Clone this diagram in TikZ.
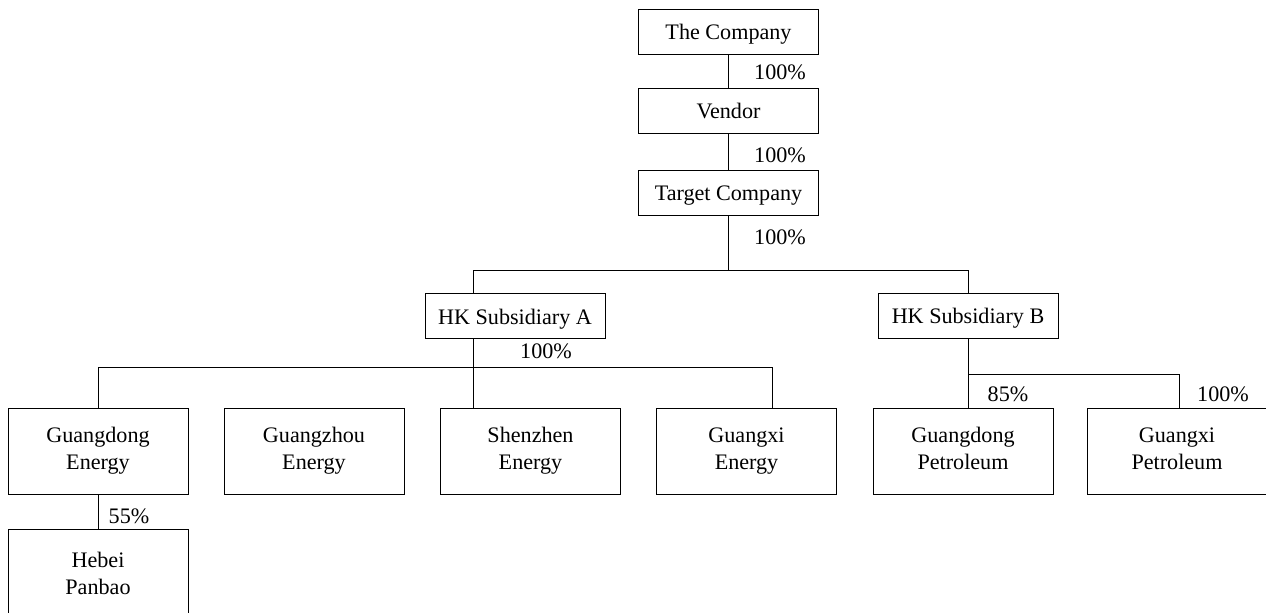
\documentclass[tikz,border=0pt]{standalone}
\usepackage{fontspec}
\setmainfont{Liberation Serif}
\newcommand\boxstrut{\rule[-2.9pt]{0pt}{15.3pt}}
\begin{document}
\begin{tikzpicture}[x=0.02cm, y=-0.02cm, line width=0.55pt,
  box/.style={draw, rectangle, minimum width=3.6cm, minimum height=0.9cm, inner sep=0pt, align=center,
    execute at begin node=\boxstrut, execute at end node=\boxstrut},
  tallbox/.style={box, minimum height=1.72cm},
  share/.style={inner sep=0pt}]
\fontsize{12.6}{15.3}\selectfont
\useasboundingbox (0,0) rectangle (1266,612);
\clip (0,0) rectangle (1266,612);
\node[box](A) at (728.5,31.5){The Company};
\node[box](B) at (728.5,110.5){Vendor};
\node[box](C) at (728.5,192.5){Target Company};
\node[box](C1) at (515,316){HK Subsidiary A};
\node[box](C2) at (968,315.5){HK Subsidiary B};
\node[tallbox](C11) at (98,451){Guangdong\\Energy};
\node[tallbox](C12) at (314,451){Guangzhou\\Energy};
\node[tallbox](C13) at (530.5,451){Shenzhen\\Energy};
\node[tallbox](C14) at (746.5,451){Guangxi\\Energy};
\node[tallbox](C21) at (963,451){Guangdong\\Petroleum};
\node[tallbox](C22) at (1177,451){Guangxi\\Petroleum};
\node[tallbox, minimum height=1.88cm](C111) at (98,576){Hebei\\Panbao};
\coordinate (J1) at (473,270);
\coordinate (J2) at (968,270);
\coordinate (J3) at (98,367);
\coordinate (J4) at (772,367);
\coordinate (J5) at (968,374);
\coordinate (J6) at (1179,374);
\node[share](P1) at (780,72){100\%};
\node[share](P2) at (780,155){100\%};
\node[share](P3) at (780,237){100\%};
\node[share](P4) at (546,351){100\%};
\node[share](P5) at (1008,394){85\%};
\node[share](P6) at (1223,394){100\%};
\node[share](P7) at (129,516){55\%};
\draw(A)--(B);
\draw(B)--(C);
\draw(C.south)--(C.south|-J1);
\draw(J1|-C1.north)--(J1)--(J2)--(J2|-C2.north);
\draw(J1|-C1.south)--(J1|-C13.north);
\draw(C11.north)--(J3)--(J4)--(J4|-C14.north);
\draw(J5|-C2.south)--(J5|-C21.north);
\draw(J5)--(J6)--(J6|-C22.north);
\draw(C11)--(C111);
\end{tikzpicture}
\end{document}
